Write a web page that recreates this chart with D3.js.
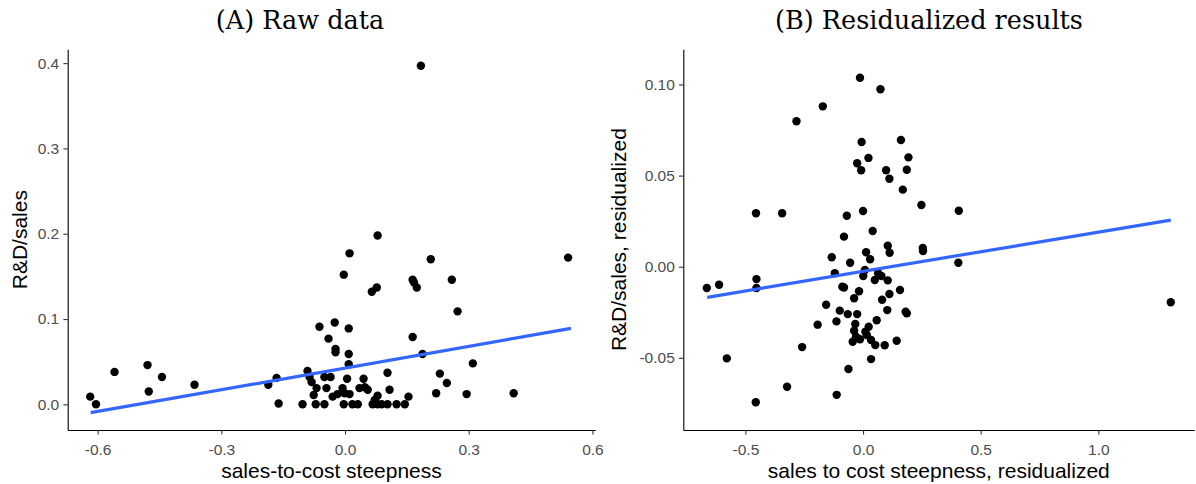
<!DOCTYPE html>
<html>
<head>
<meta charset="utf-8">
<script src="https://cdn.jsdelivr.net/npm/d3@7"></script>
<style>
  body { margin: 0; background: #fff; }
  svg { display: block; }
</style>
</head>
<body>
<svg id="chart" width="1196" height="484"></svg>
<script>
// panel A: raw data
var rawX = [-0.618, -0.604, -0.559, -0.479, -0.476, -0.444, -0.365, -0.186, -0.166, -0.161,
            -0.103, -0.091, -0.086, -0.081, -0.071, -0.050, -0.062, -0.025, 0.009, -0.040,
            -0.023, -0.023, 0.009, -0.003, 0.011, 0.079, 0.184, 0.208, 0.541, 0.164,
            0.259, 0.065, 0.077, 0.167, 0.174, 0.273, 0.164, 0.188, 0.009, 0.310,
            -0.050, -0.035, 0.005, 0.045, 0.103, 0.230, 0.247, -0.069, -0.045, -0.076,
            -0.006, -0.001, 0.035, 0.048, 0.055, 0.108, 0.221, 0.295, 0.409, 0.154,
            -0.030, -0.018, 0.011, 0.079, 0.072, -0.003, 0.018, 0.031, 0.067, 0.079,
            0.089, 0.103, 0.125, 0.145];
var rawY = [0.009, 0.000, 0.038, 0.046, 0.015, 0.032, 0.023, 0.023, 0.031, 0.001,
            0.000, 0.039, 0.032, 0.026, 0.000, 0.000, 0.091, 0.096, 0.089, 0.077,
            0.065, 0.061, 0.059, 0.152, 0.177, 0.198, 0.397, 0.170, 0.172, 0.146,
            0.146, 0.132, 0.137, 0.143, 0.137, 0.109, 0.079, 0.059, 0.047, 0.048,
            0.032, 0.032, 0.030, 0.030, 0.037, 0.036, 0.025, 0.019, 0.019, 0.011,
            0.019, 0.013, 0.019, 0.020, 0.017, 0.017, 0.013, 0.012, 0.013, 0.009,
            0.009, 0.012, 0.012, 0.010, 0.005, 0.000, 0.000, 0.000, 0.000, 0.000,
            0.000, 0.000, 0.000, 0.000];
// fitted line (lm) end points
var rawFitX = [-0.617, 0.548];
var rawFitY = [-0.0098, 0.089];
var rawXTicks = [-0.6, -0.3, 0.0, 0.3, 0.6];
var rawYTicks = [0.0, 0.1, 0.2, 0.3, 0.4];

// panel B: residualized
var resX = [-0.013, 0.074, -0.171, -0.283, -0.006, 0.161, 0.023, 0.193, -0.025, -0.008,
            0.098, 0.186, 0.112, 0.169, 0.248, 0.407, -0.455, -0.344, -0.069, 0.000,
            0.041, -0.081, 0.105, 0.113, 0.013, 0.254, 0.255, -0.133, -0.055, 0.030,
            0.405, 0.157, 0.181, 0.186, 1.308, -0.664, -0.612, -0.453, -0.453, -0.579,
            -0.456, -0.323, -0.259, -0.193, -0.157, -0.120, -0.113, -0.112, -0.099, -0.088,
            -0.081, -0.062, -0.065, -0.038, -0.025, -0.017, -0.033, -0.038, -0.044, -0.013,
            -0.030, 0.001, 0.008, 0.010, 0.024, 0.016, 0.034, 0.052, 0.034, 0.050,
            0.064, 0.078, 0.058, 0.081, 0.092, 0.105, 0.112, 0.103, 0.143];
var resY = [0.1037, 0.0974, 0.0880, 0.0798, 0.0684, 0.0695, 0.0597, 0.0600, 0.0568, 0.0529,
            0.0529, 0.0532, 0.0483, 0.0423, 0.0339, 0.0307, 0.0293, 0.0293, 0.0280, 0.0306,
            0.0196, 0.0165, 0.0115, 0.0077, 0.0079, 0.0103, 0.0086, 0.0052, 0.0022, 0.0041,
            0.0022, -0.0128, -0.0247, -0.0256, -0.0195, -0.0117, -0.0099, -0.0068, -0.0117, -0.0503,
            -0.0744, -0.0659, -0.0441, -0.0318, -0.0209, -0.0036, -0.0300, -0.0703, -0.0241, -0.0110,
            -0.0114, -0.0561, -0.0260, -0.0173, -0.0260, -0.0135, -0.0314, -0.0351, -0.0412, -0.0398,
            -0.0384, -0.0051, -0.0018, -0.0357, -0.0329, -0.0375, -0.0402, -0.0430, -0.0507, -0.0073,
            -0.0036, -0.0051, -0.0294, -0.0181, -0.0431, -0.0075, -0.0150, -0.0238, -0.0406];
var resFitX = [-0.662, 1.308];
var resFitY = [-0.0168, 0.0256];
var resXTicks = [-0.5, 0.0, 0.5, 1.0];
var resYTicks = [-0.05, 0.00, 0.05, 0.10];

var svg = d3.select("#chart");
var sans = "'Liberation Sans', Arial, sans-serif";

function draw_panel(p) {
  var x = d3.scaleLinear().domain(p.xDomain).range(p.xRange);
  var y = d3.scaleLinear().domain(p.yDomain).range(p.yRange);
  var g = svg.append("g");

  // axes
  var xAxis = d3.axisBottom(x).tickValues(p.xTicks)
                .tickFormat(d => d.toFixed(p.xDec))
                .tickSizeInner(4.5).tickSizeOuter(0).tickPadding(9.5);
  var yAxis = d3.axisLeft(y).tickValues(p.yTicks)
                .tickFormat(d => d.toFixed(p.yDec))
                .tickSizeInner(4.3).tickSizeOuter(0).tickPadding(4.2);

  var gx = g.append("g").attr("transform", "translate(0," + p.yRange[0] + ")").call(xAxis);
  var gy = g.append("g").attr("transform", "translate(" + p.xRange[0] + ",0)").call(yAxis);

  [gx, gy].forEach(a => {
    a.select(".domain").attr("stroke", "#000").attr("stroke-width", 1.1);
    a.selectAll(".tick line").attr("stroke", "#333").attr("stroke-width", 1.1);
    a.selectAll(".tick text")
      .attr("fill", "#4d4d4d")
      .style("font-family", sans)
      .style("font-size", "15.5px");
  });

  // fitted line
  var line = d3.line().x(d => x(d[0])).y(d => y(d[1]));
  var fit = p.fitX.map((v, i) => [v, p.fitY[i]]);

  // points
  g.append("g").selectAll("circle")
    .data(p.xs.map((v, i) => [v, p.ys[i]]))
    .enter().append("circle")
    .attr("cx", d => x(d[0]))
    .attr("cy", d => y(d[1]))
    .attr("r", 4.2)
    .attr("fill", "#000");

  g.append("path")
    .datum(fit)
    .attr("d", line)
    .attr("fill", "none")
    .attr("stroke", "#3366FF")
    .attr("stroke-width", 3.2);

  // axis titles
  g.append("text")
    .attr("x", (p.xRange[0] + p.xRange[1]) / 2)
    .attr("y", 478)
    .attr("text-anchor", "middle")
    .style("font-family", sans)
    .style("font-size", "21px")
    .text(p.xLabel);

  g.append("text")
    .attr("transform", "translate(" + p.yLabelX + "," + ((p.yRange[0] + p.yRange[1]) / 2) + ") rotate(-90)")
    .attr("text-anchor", "middle")
    .style("font-family", sans)
    .style("font-size", "21px")
    .text(p.yLabel);

  // panel title
  g.append("text")
    .attr("x", p.titleX)
    .attr("y", 29)
    .attr("text-anchor", "middle")
    .style("font-family", "'DejaVu Serif', serif")
    .style("font-size", "25.5px")
    .text(p.title);
}

draw_panel({
  xs: rawX, ys: rawY, fitX: rawFitX, fitY: rawFitY,
  xTicks: rawXTicks, yTicks: rawYTicks, xDec: 1, yDec: 1,
  xDomain: [-0.6726, 0.607], yDomain: [-0.0301, 0.4162],
  xRange: [67.7, 595.3], yRange: [430, 49.3],
  xLabel: "sales-to-cost steepness", yLabel: "R&D/sales", yLabelX: 26.5,
  title: "(A) Raw data", titleX: 300
});

draw_panel({
  xs: resX, ys: resY, fitX: resFitX, fitY: resFitY,
  xTicks: resXTicks, yTicks: resYTicks, xDec: 1, yDec: 2,
  xDomain: [-0.764, 1.408], yDomain: [-0.0896, 0.1193],
  xRange: [683.3, 1194.3], yRange: [430, 49.3],
  xLabel: "sales to cost steepness, residualized", yLabel: "R&D/sales, residualized", yLabelX: 626,
  title: "(B) Residualized results", titleX: 929
});
</script>
</body>
</html>
